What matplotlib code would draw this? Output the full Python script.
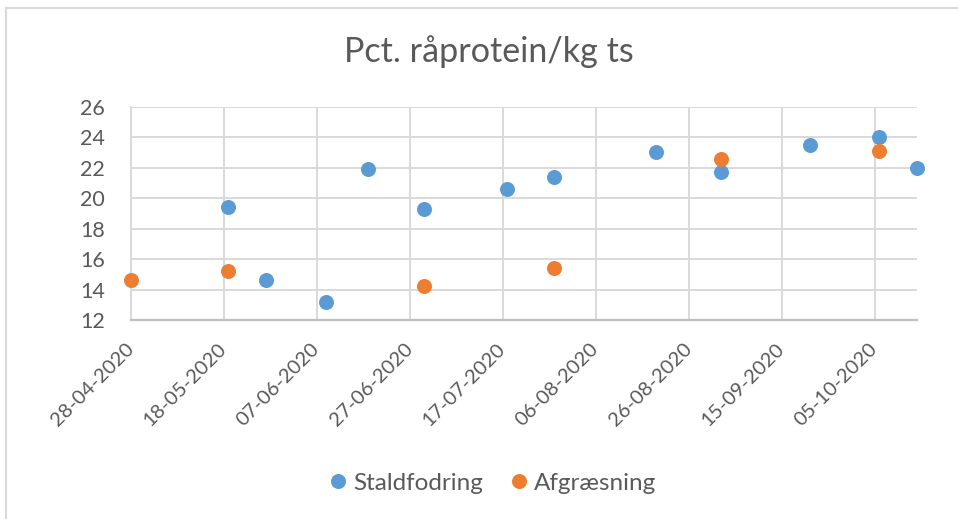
import numpy as np
import matplotlib
matplotlib.use("Agg")
import matplotlib.pyplot as plt
import matplotlib.dates as mdates
from matplotlib.lines import Line2D

plt.rcParams['font.family'] = ['Lato', 'DejaVu Sans']

# data
stald_dates = ['2020-05-19', '2020-05-27', '2020-06-09', '2020-06-18', '2020-06-30',
               '2020-07-18', '2020-07-28', '2020-08-19', '2020-09-02', '2020-09-21',
               '2020-10-06', '2020-10-14']
stald_vals = [19.4, 14.6, 13.2, 21.9, 19.3, 20.6, 21.4, 23.0, 21.7, 23.5, 24.0, 22.0]

afg_dates = ['2020-04-28', '2020-05-19', '2020-06-30', '2020-07-28', '2020-09-02', '2020-10-06']
afg_vals = [14.6, 15.2, 14.2, 15.4, 22.6, 23.1]

title = "Pct. råprotein/kg ts"
series_names = ["Staldfodring", "Afgræsning"]
x_start, x_end = '2020-04-28', '2020-10-14'
y_ticks = [12, 14, 16, 18, 20, 22, 24, 26]

BLUE = '#5B9BD5'
ORANGE = '#ED7D31'
TXT = '#595959'
GRID = '#D9D9D9'

fig = plt.figure(figsize=(9.58, 5.19), dpi=100)
ax = fig.add_axes([130.7 / 958, 1 - 320 / 519, 786 / 958, 213.3 / 519])

sd = np.array(stald_dates, dtype='datetime64[D]')
ad = np.array(afg_dates, dtype='datetime64[D]')
ax.plot(sd, stald_vals, 'o', color=BLUE, markersize=10.8, markeredgewidth=0, zorder=3, clip_on=False)
ax.plot(ad, afg_vals, 'o', color=ORANGE, markersize=10.8, markeredgewidth=0, zorder=3, clip_on=False)

x0 = np.datetime64(x_start)
x1 = np.datetime64(x_end)
ax.set_xlim(x0, x1)
ax.set_ylim(y_ticks[0], y_ticks[-1])
ax.set_yticks(y_ticks)
ax.set_xticks(np.arange(x0, x1, np.timedelta64(20, 'D')))
ax.xaxis.set_major_formatter(mdates.DateFormatter('%d-%m-%Y'))

ax.grid(True, color=GRID, linewidth=1.4)
ax.set_axisbelow(True)
for s in ['top', 'right']:
    ax.spines[s].set_visible(False)
ax.spines['left'].set_color(GRID)
ax.spines['left'].set_linewidth(1.4)
ax.spines['bottom'].set_color('#BFBFBF')
ax.spines['bottom'].set_linewidth(1.6)

ax.tick_params(axis='both', length=0, colors=TXT)
ax.tick_params(axis='y', pad=18.5, labelsize=15.5)
ax.tick_params(axis='x', pad=19, labelsize=14.5)
for lab in ax.get_xticklabels():
    lab.set_rotation(45)
    lab.set_ha('right')
    lab.set_va('center')
    lab.set_rotation_mode('anchor')

fig.text(488.5 / 958, 1 - 52 / 519, title, ha='center', va='center', fontsize=24.6, color=TXT)

handles = [Line2D([], [], ls='', marker='o', color=BLUE, markersize=10.8, markeredgewidth=0),
           Line2D([], [], ls='', marker='o', color=ORANGE, markersize=10.8, markeredgewidth=0)]
fig.legend(handles, series_names, loc='center', bbox_to_anchor=(491 / 958, 1 - 483 / 519),
           ncol=2, frameon=False, fontsize=17.5, labelcolor=TXT,
           handletextpad=0.1, columnspacing=1.0, handlelength=1.0)

# chart area border (top and left visible)
fig.add_artist(Line2D([6 / 958, 1], [1 - 8 / 519, 1 - 8 / 519], color='#D9D9D9', lw=1.5))
fig.add_artist(Line2D([6 / 958, 6 / 958], [0, 1 - 8 / 519], color='#D9D9D9', lw=1.5))

fig.savefig('out.png', dpi=100, facecolor='white')
